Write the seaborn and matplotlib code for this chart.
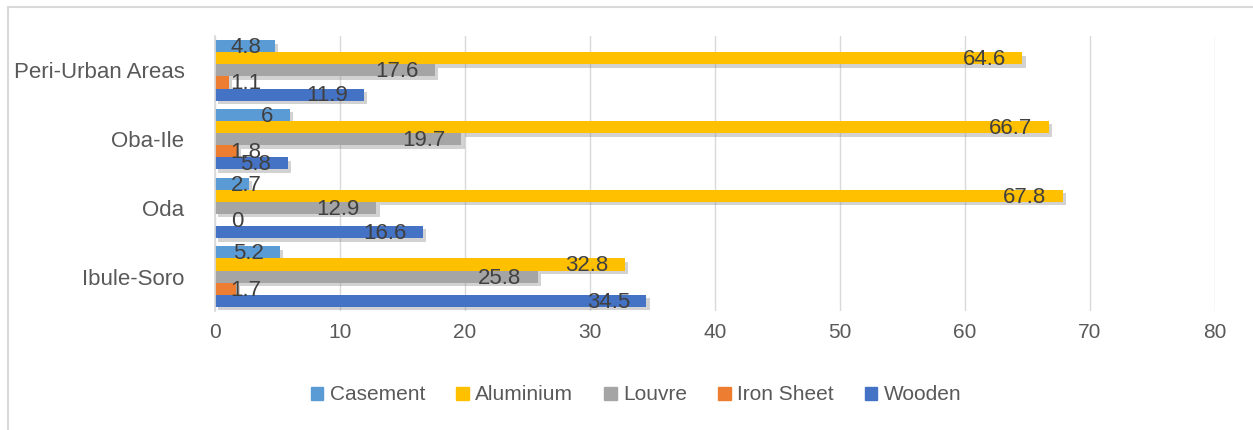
import numpy as np
import pandas as pd
import matplotlib
matplotlib.use("Agg")
import matplotlib.pyplot as plt
import matplotlib.patheffects as pe
from matplotlib.patches import Rectangle
import seaborn as sns

# ─── DATA ──────────────────────────────────────────────
areas = ["Peri-Urban Areas", "Oba-Ile", "Oda", "Ibule-Soro"]
window_types = ["Casement", "Aluminium", "Louvre", "Iron Sheet", "Wooden"]
casement = [4.8, 6, 2.7, 5.2]
aluminium = [64.6, 66.7, 67.8, 32.8]
louvre = [17.6, 19.7, 12.9, 25.8]
iron_sheet = [1.1, 1.8, 0, 1.7]
wooden = [11.9, 5.8, 16.6, 34.5]

colors = ["#5B9BD5", "#FFC000", "#A5A5A5", "#ED7D31", "#4472C4"]

df = pd.DataFrame({
    "Area": np.repeat(areas, 5),
    "Type": window_types * 4,
    "Value": [v for i in range(4) for v in
              (casement[i], aluminium[i], louvre[i], iron_sheet[i], wooden[i])],
})

# ─── PLOT ──────────────────────────────────────────────
sns.set_theme(style="white")
plt.rcParams["font.family"] = ["Liberation Sans", "DejaVu Sans"]

fig = plt.figure(figsize=(12.53, 4.30), dpi=100)
ax = fig.add_axes([215 / 1253, 1 - 311 / 430, 1000 / 1253, 275 / 430])

sns.barplot(data=df, y="Area", x="Value", hue="Type", order=areas,
            hue_order=window_types, palette=colors, orient="h",
            width=0.88, ax=ax, legend=False, saturation=1)

shadow = [pe.SimplePatchShadow(offset=(2.5, -2.5), shadow_rgbFace="#808080", alpha=0.35),
          pe.Normal()]
for p in ax.patches:
    p.set_linewidth(0)
    p.set_path_effects(shadow)

ax.set_xlim(0, 80)
ax.set_xticks(range(0, 81, 10))
ax.set_xlabel("")
ax.set_ylabel("")
ax.grid(axis="x", color="#D9D9D9", linewidth=1)
ax.set_axisbelow(True)
for s in ["top", "right", "bottom"]:
    ax.spines[s].set_visible(False)
ax.spines["left"].set_color("#D9D9D9")
ax.tick_params(axis="x", labelsize=15, colors="#595959", length=0, pad=9)
ax.tick_params(axis="y", labelsize=16, colors="#595959", length=0, pad=22)

# value labels: inside end, clamped near the axis
fig.canvas.draw()
renderer = fig.canvas.get_renderer()
for cont in ax.containers:
    for bar, v in zip(cont, cont.datavalues):
        yc = bar.get_y() + bar.get_height() / 2 + 0.02
        t = ax.text(v - 1.3, yc, f"{v:g}", ha="right", va="center",
                    fontsize=16, color="#404040")
        bb = t.get_window_extent(renderer).transformed(ax.transData.inverted())
        if bb.x0 < 1.25:
            t.set_x(1.25)
            t.set_ha("left")

handles = [Rectangle((0, 0), 1, 1, color=c) for c in colors]
fig.legend(handles, window_types, loc="center", bbox_to_anchor=(636 / 1253, 1 - 395 / 430),
           ncol=5, frameon=False, fontsize=15, handlelength=0.6, handleheight=0.6,
           handletextpad=0.3, columnspacing=1.5, labelcolor="#595959")

# chart border
fig.patches.append(Rectangle((8 / 1253, -0.05), 1.2, 1 - 7 / 430 + 0.05,
                             transform=fig.transFigure, fill=False,
                             edgecolor="#D9D9D9", linewidth=1.5))

fig.savefig("out.png", dpi=100)
